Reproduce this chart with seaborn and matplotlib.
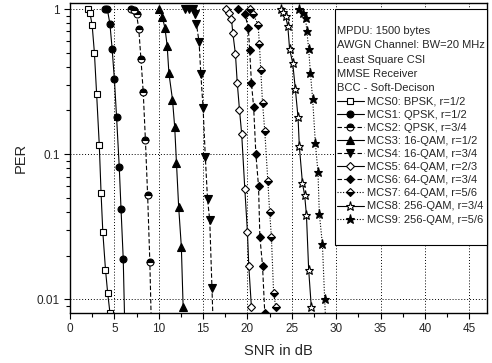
import numpy as np
import pandas as pd
import matplotlib
matplotlib.use("Agg")
import matplotlib.pyplot as plt
import matplotlib.ticker as mticker
import seaborn as sns

# PER vs SNR curves
mcs0_x = [2.0, 2.25, 2.5, 2.75, 3.0, 3.3, 3.5, 3.7, 4.0, 4.25, 4.5]
mcs0_y = [1.0, 0.94, 0.77, 0.50, 0.26, 0.116, 0.054, 0.029, 0.016, 0.011, 0.0081]
mcs1_x = [4.0, 4.2, 4.5, 4.75, 5.0, 5.25, 5.55, 5.75, 6.0, 6.25]
mcs1_y = [1.0, 1.0, 0.79, 0.53, 0.33, 0.18, 0.082, 0.042, 0.019, 0.004]
mcs2_x = [6.85, 7.2, 7.5, 7.75, 8.0, 8.25, 8.5, 8.75, 9.0, 9.25]
mcs2_y = [1.0, 0.98, 0.92, 0.73, 0.45, 0.27, 0.125, 0.052, 0.018, 0.004]
mcs3_x = [10.0, 10.4, 10.7, 10.95, 11.15, 11.55, 11.8, 12.0, 12.25, 12.55, 12.75]
mcs3_y = [1.0, 0.885, 0.74, 0.56, 0.36, 0.238, 0.154, 0.087, 0.043, 0.023, 0.0089]
mcs4_x = [12.95, 13.4, 13.85, 14.05, 14.25, 14.55, 14.75, 15.0, 15.25, 15.5, 15.75, 16.0, 16.25]
mcs4_y = [1.0, 1.0, 1.0, 0.93, 0.79, 0.59, 0.354, 0.208, 0.096, 0.049, 0.035, 0.012, 0.004]
mcs5_x = [17.6, 17.9, 18.2, 18.35, 18.65, 18.85, 19.1, 19.35, 19.7, 20.0, 20.15, 20.45]
mcs5_y = [1.0, 0.94, 0.85, 0.685, 0.486, 0.31, 0.203, 0.138, 0.058, 0.029, 0.017, 0.0088]
mcs6_x = [18.9, 19.7, 20.1, 20.25, 20.45, 20.7, 20.95, 21.25, 21.4, 21.7, 21.95]
mcs6_y = [1.0, 0.93, 0.74, 0.52, 0.31, 0.21, 0.10, 0.06, 0.027, 0.017, 0.0081]
mcs7_x = [20.25, 20.6, 21.2, 21.35, 21.5, 21.7, 21.95, 22.3, 22.5, 22.7, 22.95, 23.2]
mcs7_y = [1.0, 0.93, 0.78, 0.57, 0.38, 0.226, 0.145, 0.065, 0.04, 0.027, 0.011, 0.0088]
mcs8_x = [23.8, 24.0, 24.3, 24.55, 24.75, 25.1, 25.4, 25.7, 25.85, 26.2, 26.45, 26.65, 26.9, 27.2]
mcs8_y = [1.0, 0.95, 0.89, 0.76, 0.53, 0.425, 0.28, 0.18, 0.113, 0.063, 0.052, 0.038, 0.016, 0.0088]
mcs9_x = [25.85, 26.25, 26.55, 26.7, 26.9, 27.1, 27.35, 27.65, 27.95, 28.1, 28.45, 28.7, 29.0]
mcs9_y = [1.0, 0.94, 0.87, 0.70, 0.53, 0.36, 0.24, 0.12, 0.075, 0.039, 0.024, 0.0101, 0.004]

labels = ["MCS0: BPSK, r=1/2", "MCS1: QPSK, r=1/2", "MCS2: QPSK, r=3/4",
          "MCS3: 16-QAM, r=1/2", "MCS4: 16-QAM, r=3/4", "MCS5: 64-QAM, r=2/3",
          "MCS6: 64-QAM, r=3/4", "MCS7: 64-QAM, r=5/6", "MCS8: 256-QAM, r=3/4",
          "MCS9: 256-QAM, r=5/6"]
header = ["MPDU: 1500 bytes", "AWGN Channel: BW=20 MHz", "Least Square CSI",
          "MMSE Receiver", "BCC - Soft-Decison"]

xs = [mcs0_x, mcs1_x, mcs2_x, mcs3_x, mcs4_x, mcs5_x, mcs6_x, mcs7_x, mcs8_x, mcs9_x]
ys = [mcs0_y, mcs1_y, mcs2_y, mcs3_y, mcs4_y, mcs5_y, mcs6_y, mcs7_y, mcs8_y, mcs9_y]

# marker, size, face fill, fillstyle, linestyle
styles = [
    ("s", 4.8, "white", "full", "-"),
    ("o", 5.0, "black", "full", "-"),
    ("o", 5.0, "black", "top", (0, (4, 2))),
    ("^", 5.2, "black", "full", "-"),
    ("v", 5.2, "black", "full", (0, (4, 2))),
    ("D", 4.2, "white", "full", "-"),
    ("D", 4.2, "black", "full", (0, (4, 2))),
    ("D", 4.2, "black", "bottom", (0, (1, 1.5))),
    ("*", 6.8, "white", "full", "-"),
    ("*", 6.8, "black", "full", (0, (1, 1.5))),
]

sns.set_style("ticks")
plt.rcParams["font.family"] = ["Liberation Sans", "DejaVu Sans"]

fig = plt.figure(figsize=(4.92, 3.63), dpi=100)
ax = fig.add_axes([70 / 492, 1 - 313 / 363, 417 / 492, 310 / 363])

handles = []
for x, y, lab, (mk, ms, fc, fs, ls) in zip(xs, ys, labels, styles):
    df = pd.DataFrame({"snr": x, "per": y})
    sns.lineplot(data=df, x="snr", y="per", ax=ax, estimator=None, sort=False,
                 color="black", linewidth=0.8, linestyle=ls, marker=mk,
                 markersize=ms, markerfacecolor=fc,
                 markerfacecoloralt="white", fillstyle=fs,
                 markeredgecolor="black", markeredgewidth=0.8)
    handles.append(ax.lines[-1])

ax.set_yscale("log")
ax.set_xlim(0, 47)
ax.set_ylim(0.00805, 1.10)
ax.xaxis.set_major_locator(mticker.MultipleLocator(5))
ax.xaxis.set_minor_locator(mticker.MultipleLocator(2.5))
ax.yaxis.set_major_locator(mticker.FixedLocator([0.01, 0.1, 1]))
ax.yaxis.set_major_formatter(mticker.FixedFormatter(["0.01", "0.1", "1"]))
ax.yaxis.set_minor_locator(mticker.LogLocator(base=10, subs=np.arange(2, 10) * 1.0))
ax.yaxis.set_minor_formatter(mticker.NullFormatter())
ax.tick_params(which="both", direction="out", color="black", width=0.8, labelsize=8.5)
ax.tick_params(which="major", length=4)
ax.tick_params(which="minor", length=3)
ax.grid(True, which="major", color="black", linestyle=(0, (1, 2)), linewidth=0.7)
for sp in ax.spines.values():
    sp.set_color("black")
    sp.set_linewidth(1.0)

ax.set_xlabel("SNR in dB", fontsize=10.5, labelpad=6)
ax.set_ylabel("PER", fontsize=10.5, labelpad=6)

blank, = ax.plot([], [], color="none")
leg = ax.legend(handles + [blank], labels + [" "], title="\n".join([""] + header),
                alignment="left", loc="upper right", bbox_to_anchor=(1.0, 0.98),
                fontsize=8, title_fontsize=8, frameon=True, fancybox=False,
                framealpha=1, edgecolor="black", borderpad=0.2,
                handlelength=2.4, handletextpad=0.35, labelspacing=0.28,
                borderaxespad=0)
leg.get_texts()[-1].set_fontsize(12)
leg.get_title().set_linespacing(1.55)
leg.get_frame().set_linewidth(0.8)

fig.savefig("out.png", dpi=100)
